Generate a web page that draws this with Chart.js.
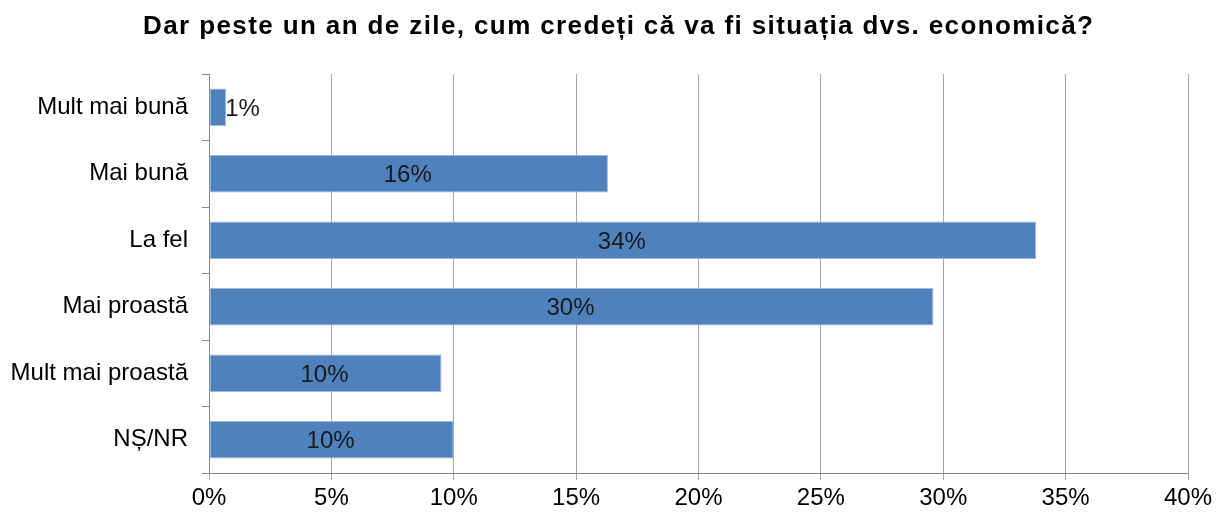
<!DOCTYPE html>
<html>
<head>
<meta charset="utf-8">
<script src="https://cdn.jsdelivr.net/npm/chart.js@4/dist/chart.umd.min.js"></script>
<style>
html,body{margin:0;padding:0;background:#fff;}
#wrap{width:1222px;height:516px;position:relative;}
</style>
</head>
<body>
<div id="wrap"><canvas id="c" width="1222" height="516"></canvas></div>
<script>
const titleText = "Dar peste un an de zile, cum credeți că va fi situația dvs. economică?";
const categories = ["Mult mai bună", "Mai bună", "La fel", "Mai proastă", "Mult mai proastă", "NȘ/NR"];
const values = [0.7, 16.3, 33.8, 29.6, 9.5, 10.0];
const xTicks = [0, 5, 10, 15, 20, 25, 30, 35, 40];

const FONT = "'Liberation Sans', Arial, sans-serif";

const titlePlugin = {
  id: 'customTitle',
  afterDraw(chart) {
    const ctx = chart.ctx;
    ctx.save();
    ctx.font = "bold 26px " + FONT;
    ctx.fillStyle = "#000";
    ctx.textBaseline = "alphabetic";
    ctx.textAlign = "left";
    const target = 950;
    const n = titleText.length;
    const baseW = ctx.measureText(titleText).width;
    const ls = (target - baseW) / (n - 1);
    try { ctx.letterSpacing = ls.toFixed(2) + "px"; } catch (e) {}
    const w = ctx.measureText(titleText).width;
    ctx.fillText(titleText, 618 - w / 2 + ls / 2, 34);
    ctx.restore();
  }
};

const labelPlugin = {
  id: 'barLabels',
  afterDatasetsDraw(chart) {
    const ctx = chart.ctx;
    const meta = chart.getDatasetMeta(0);
    ctx.save();
    ctx.font = "24px " + FONT;
    ctx.fillStyle = "#1a1a1a";
    ctx.textBaseline = "middle";
    meta.data.forEach((bar, i) => {
      const txt = Math.round(values[i]) + "%";
      const w = ctx.measureText(txt).width;
      const left = bar.base, right = bar.x;
      if (right - left < w + 6) {
        ctx.textAlign = "left";
        ctx.fillText(txt, right - 1, bar.y + 2);
      } else {
        ctx.textAlign = "center";
        ctx.fillText(txt, (left + right) / 2 - 1, bar.y + 2);
      }
    });
    ctx.restore();
  }
};

new Chart(document.getElementById('c'), {
  type: 'bar',
  data: {
    labels: categories,
    datasets: [{
      data: values,
      backgroundColor: '#4F81BD',
      borderColor: '#9DB9DC',
      borderWidth: 1,
      borderSkipped: false,
      barPercentage: 0.565,
      categoryPercentage: 1.0
    }]
  },
  options: {
    indexAxis: 'y',
    responsive: false,
    animation: false,
    devicePixelRatio: 1,
    layout: { padding: { top: 74, right: 34, left: 0, bottom: 0 } },
    plugins: {
      legend: { display: false },
      title: { display: false },
      tooltip: { enabled: false }
    },
    scales: {
      x: {
        type: 'linear',
        min: 0, max: 40,
        afterBuildTicks(scale) { scale.ticks = xTicks.map(v => ({ value: v })); },
        afterFit(scale) { scale.height = 43; },
        ticks: {
          callback: v => v + '%',
          font: { family: FONT, size: 24 },
          color: '#000',
          padding: 4,
          maxRotation: 0,
          autoSkip: false
        },
        grid: {
          color: '#A6A6A6',
          lineWidth: 1,
          tickLength: 7,
          drawTicks: true
        },
        border: { color: '#868686', width: 1 }
      },
      y: {
        type: 'category',
        offset: true,
        afterFit(scale) { scale.width = 209; },
        ticks: {
          font: { family: FONT, size: 24 },
          color: '#000',
          padding: 14
        },
        grid: {
          offset: true,
          drawOnChartArea: false,
          drawTicks: true,
          tickLength: 7,
          color: '#868686'
        },
        border: { color: '#868686', width: 1 }
      }
    }
  },
  plugins: [titlePlugin, labelPlugin]
});
</script>
</body>
</html>
